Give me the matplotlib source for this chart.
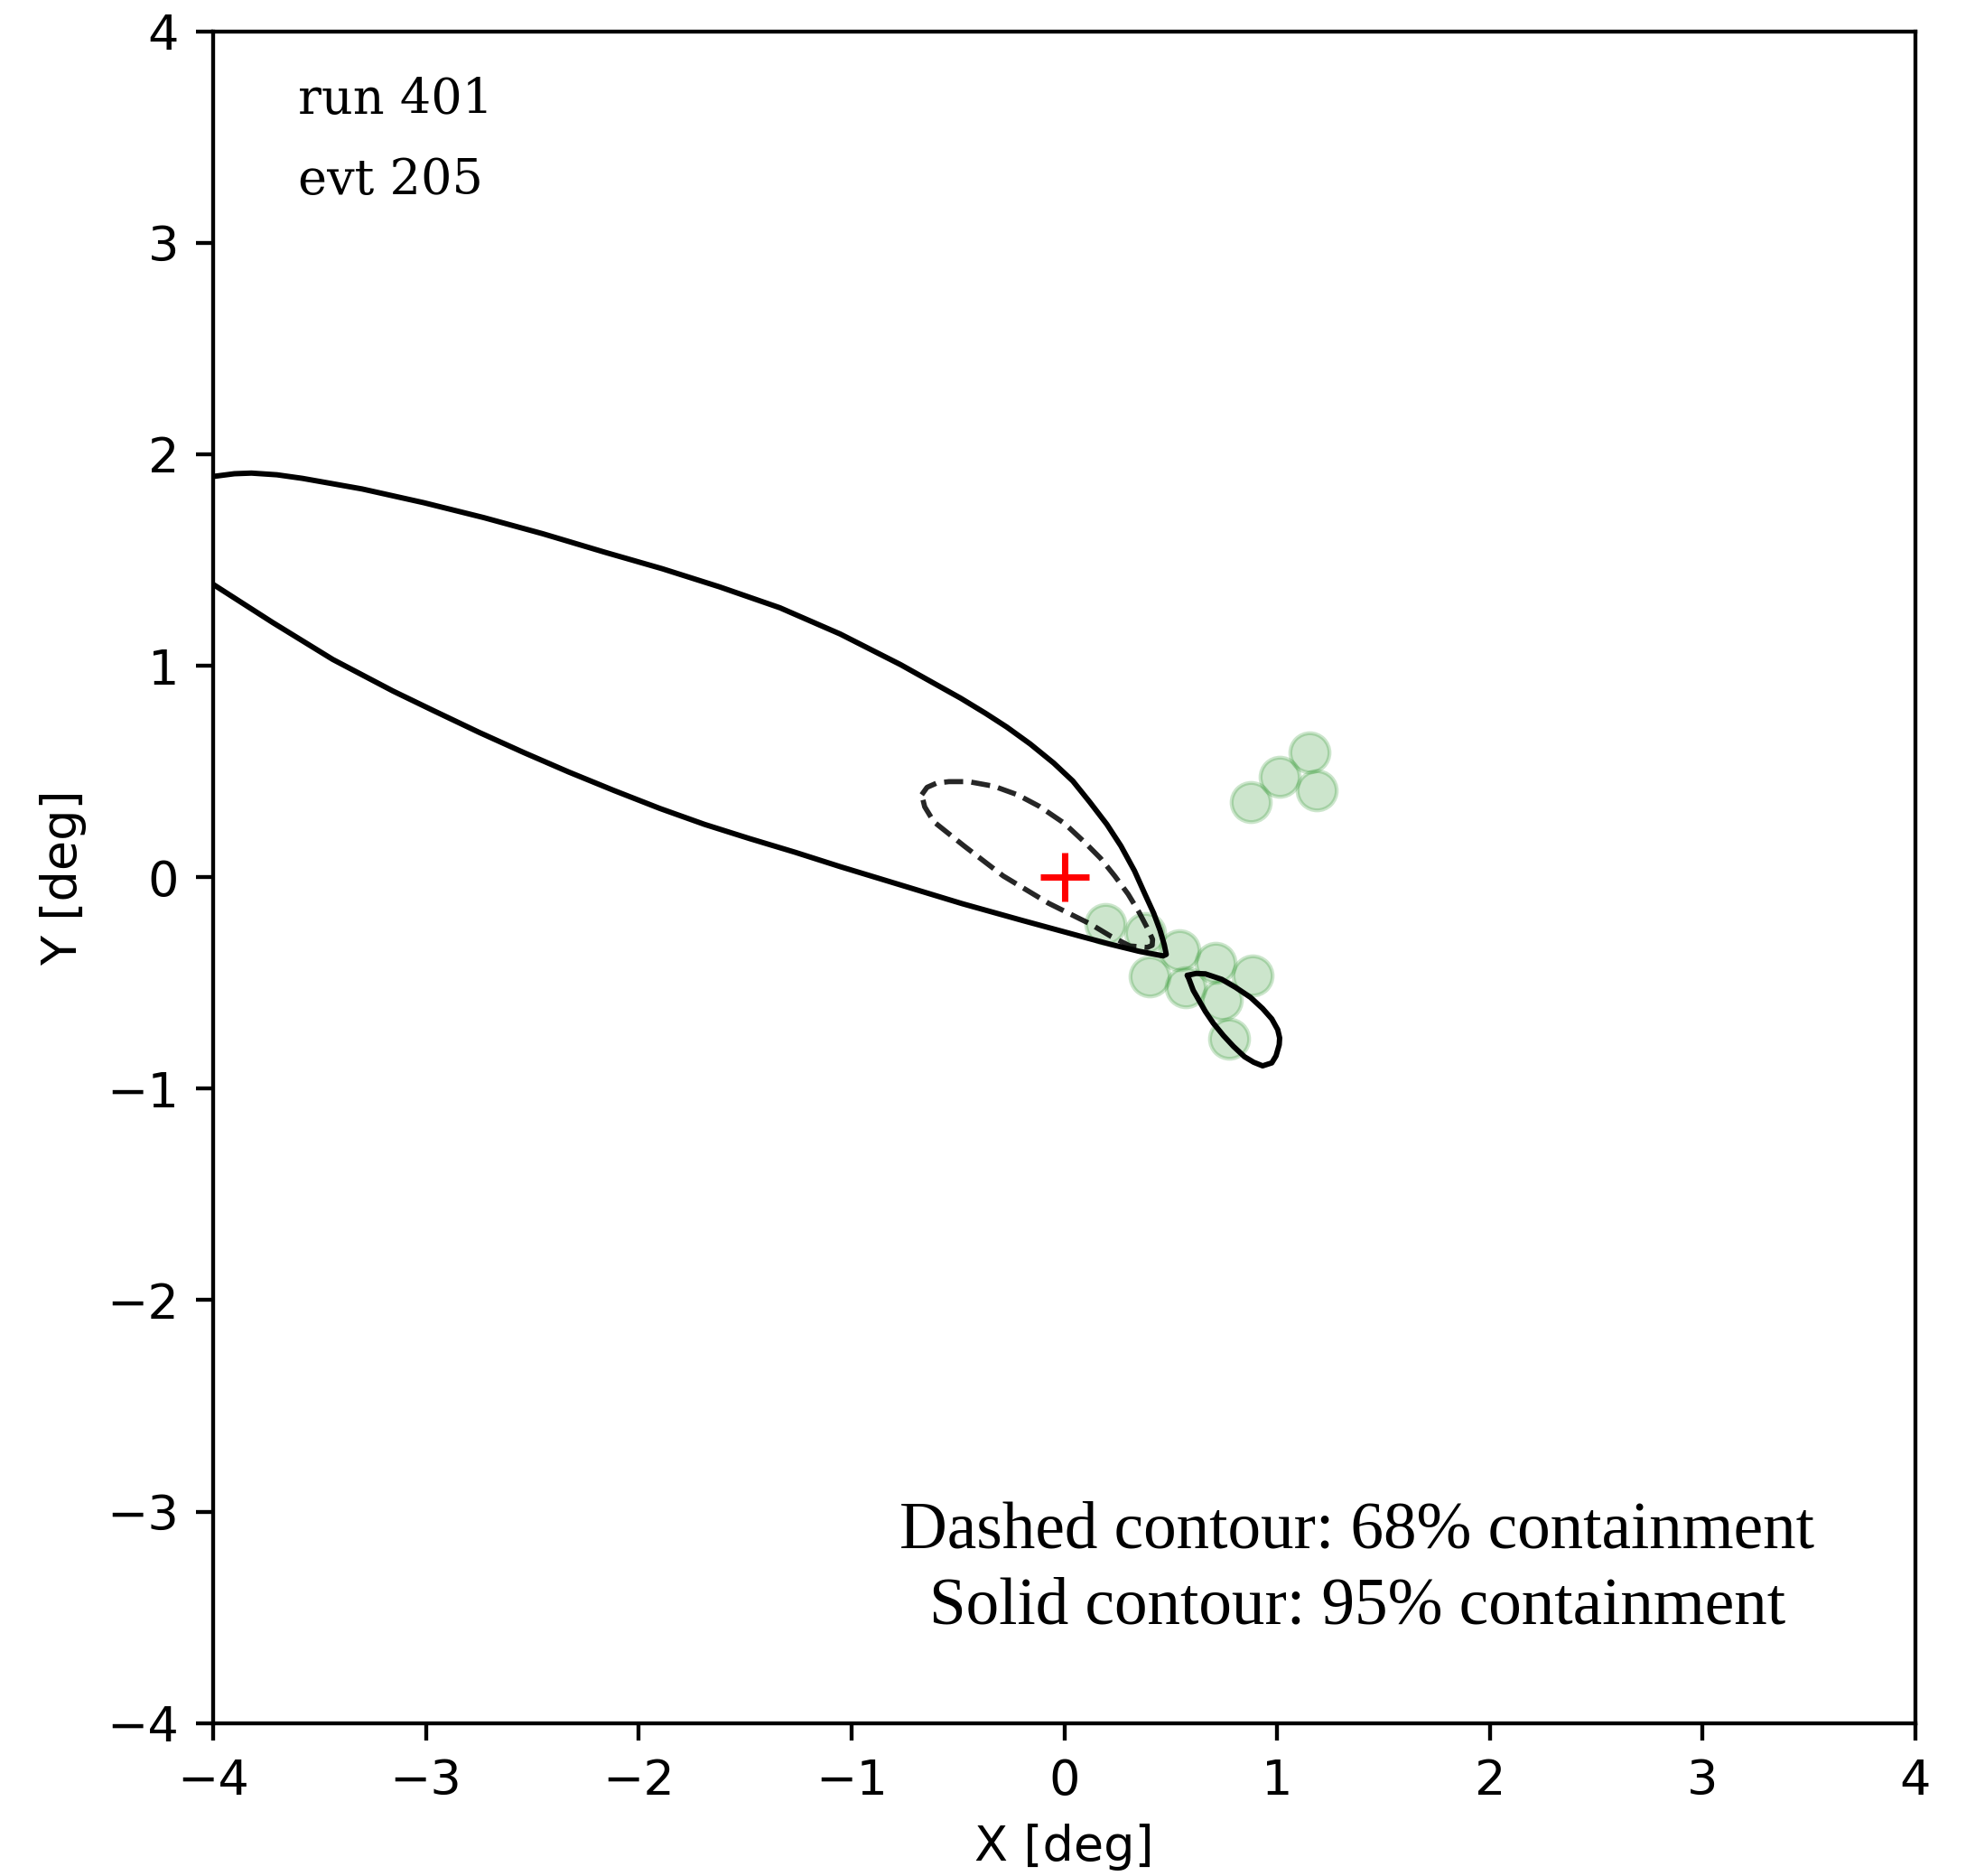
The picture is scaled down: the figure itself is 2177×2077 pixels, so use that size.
import matplotlib
matplotlib.use("Agg")
import matplotlib.pyplot as plt

# ---- data ----
# 95% containment contour (large lobe, open at the left edge)
solid_big_x = [-4.0, -3.90, -3.82, -3.70, -3.58, -3.30, -3.01, -2.73, -2.45, -2.16,
               -1.89, -1.62, -1.336, -1.053, -0.769, -0.60, -0.486, -0.37, -0.27, -0.16,
               -0.05, 0.04, 0.12, 0.20, 0.266, 0.33, 0.379, 0.42, 0.450, 0.47,
               0.479, 0.464,
               0.35, 0.22, 0.09, -0.195, -0.48, -0.84, -1.053, -1.265, -1.48, -1.691,
               -1.90, -2.116, -2.33, -2.541, -2.75, -2.967, -3.154, -3.438, -3.721, -4.0]
solid_big_y = [1.895, 1.908, 1.911, 1.903, 1.886, 1.836, 1.771, 1.701, 1.624, 1.537,
               1.459, 1.373, 1.274, 1.150, 1.005, 0.910, 0.846, 0.775, 0.710, 0.630,
               0.540, 0.455, 0.355, 0.250, 0.148, 0.030, -0.080, -0.170, -0.251, -0.320,
               -0.365, -0.372,
               -0.350, -0.318, -0.283, -0.205, -0.125, -0.015, 0.050, 0.118, 0.183, 0.250,
               0.325, 0.410, 0.498, 0.590, 0.685, 0.789, 0.880, 1.030, 1.205, 1.385]

# 95% containment contour (small island)
solid_small_x = [0.578, 0.62, 0.663, 0.74, 0.805, 0.875, 0.932, 0.975, 1.003, 1.012,
                 1.010, 0.995, 0.975, 0.932, 0.89, 0.847, 0.795, 0.748, 0.70, 0.663,
                 0.606, 0.585, 0.578]
solid_small_y = [-0.464, -0.455, -0.457, -0.483, -0.521, -0.568, -0.621, -0.670, -0.721, -0.760,
                 -0.792, -0.845, -0.878, -0.892, -0.875, -0.849, -0.800, -0.749, -0.690, -0.635,
                 -0.535, -0.479, -0.464]

# 68% containment contour
dashed_x = [-0.670, -0.645, -0.60, -0.542, -0.45, -0.330, -0.22, -0.117, 0.0, 0.096,
            0.17, 0.237, 0.30, 0.351, 0.39, 0.415, 0.413, 0.39, 0.308, 0.22,
            0.124, -0.074, -0.287, -0.471, -0.613, -0.656, -0.670]
dashed_y = [0.390, 0.425, 0.445, 0.452, 0.452, 0.430, 0.390, 0.335, 0.255, 0.165,
            0.090, 0.006, -0.080, -0.165, -0.240, -0.294, -0.322, -0.332, -0.325, -0.280,
            -0.222, -0.123, 0.006, 0.148, 0.262, 0.333, 0.390]

# telescope positions (green circles)
pts_x = [1.152, 1.014, 1.187, 0.878, 0.195, 0.379, 0.542, 0.712, 0.883, 0.401, 0.571, 0.741, 0.776]
pts_y = [0.590, 0.476, 0.412, 0.355, -0.222, -0.265, -0.343, -0.407, -0.464, -0.471, -0.521, -0.578, -0.764]

# true source position
src_x = [0.0]
src_y = [0.0]

run_label = "run 401"
evt_label = "evt 205"
note_text = "Dashed contour: 68% containment\nSolid contour: 95% containment"

# ---- figure ----
DPI = 390
fig = plt.figure(figsize=(2177 / DPI, 2077 / DPI), dpi=DPI)
ax = fig.add_axes([0.1084, 0.0815, 0.9743 - 0.1084, 0.9833 - 0.0815])

ax.scatter(pts_x, pts_y, s=64, color="green", alpha=0.2, linewidths=0.8, zorder=1)

ax.plot(solid_big_x, solid_big_y, color="black", lw=1.1, zorder=3,
        solid_joinstyle="round", solid_capstyle="round")
ax.plot(solid_small_x, solid_small_y, color="black", lw=1.1, zorder=3,
        solid_joinstyle="round", solid_capstyle="round")
ax.plot(dashed_x, dashed_y, color="black", lw=1.05, ls="--", alpha=0.85, zorder=3)

ax.plot(src_x, src_y, marker="+", color="red", markersize=10, mew=1.3, ls="none", zorder=4)

ax.set_xlim(-4, 4)
ax.set_ylim(-4, 4)
ax.set_xlabel("X [deg]", fontsize=10)
ax.set_ylabel("Y [deg]", fontsize=10)
ax.tick_params(labelsize=10)

ax.text(-3.6, 3.612, run_label, family="DejaVu Serif", fontsize=10, ha="left", va="baseline")
ax.text(-3.6, 3.228, evt_label, family="DejaVu Serif", fontsize=10, ha="left", va="baseline")

ax.text(0.672, 0.091, note_text, transform=ax.transAxes, family="Liberation Serif",
        fontsize=13.5, ha="center", va="center", linespacing=1.32)

fig.savefig("out.png", dpi=DPI)
